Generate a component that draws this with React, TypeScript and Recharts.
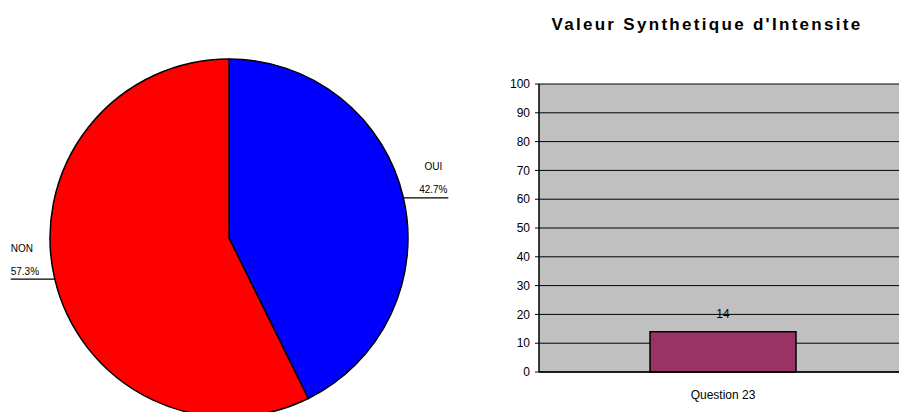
import React from 'react';
import { PieChart, Pie, Cell, BarChart, Bar, XAxis, YAxis, CartesianGrid, LabelList } from 'recharts';

const pieNames = ['OUI', 'NON'];
const pieValues = [42.7, 57.3];
const pieColors = ['#0000ff', '#ff0000'];

const barCategories = ['Question 23'];
const barValues = [14];
const yTicks = [0, 10, 20, 30, 40, 50, 60, 70, 80, 90, 100];

const chartTitle = "Valeur Synthetique d'Intensite";

const pieData = pieNames.map((name, i) => ({ name, value: pieValues[i] }));
const barData = barCategories.map((name, i) => ({ name, value: barValues[i] }));

const FONT = '"Liberation Sans", Arial, sans-serif';
const RAD = Math.PI / 180;

const renderPieLabel = (props: any) => {
  const { cx, cy, midAngle, outerRadius, name, value } = props;
  const ex = cx + outerRadius * Math.cos(-midAngle * RAD);
  const ey = cy + outerRadius * Math.sin(-midAngle * RAD);
  const right = ex > cx;
  const lineEnd = right ? ex + 45 : ex - 44;
  const tx = right ? ex + 30 : lineEnd;
  const anchor = right ? 'middle' : 'start';
  return (
    <g>
      <line x1={ex} y1={ey + 0.5} x2={lineEnd} y2={ey + 0.5} stroke="#000" strokeWidth={1.2} />
      <text x={tx} y={ey - 27} textAnchor={anchor} fontSize={10} fontFamily={FONT} fill="#000">
        {name}
      </text>
      <text x={tx} y={ey - 4} textAnchor={anchor} fontSize={10} fontFamily={FONT} fill="#000">
        {Number(value).toFixed(1)}%
      </text>
    </g>
  );
};

export default function App() {
  return (
    <div style={{ position: 'absolute', left: 0, top: 0, width: 899, height: 412, overflow: 'hidden', background: '#fff' }}>
      <div style={{ position: 'absolute', left: 0, top: 0 }}>
        <PieChart width={470} height={412} margin={{ top: 0, right: 0, bottom: 0, left: 0 }}>
          <Pie
            data={pieData}
            dataKey="value"
            nameKey="name"
            cx={229}
            cy={238}
            outerRadius={179}
            startAngle={90}
            endAngle={-270}
            stroke="#000"
            strokeWidth={1.5}
            label={renderPieLabel}
            labelLine={false}
            isAnimationActive={false}
          >
            {pieData.map((d, i) => (
              <Cell key={d.name} fill={pieColors[i]} />
            ))}
          </Pie>
        </PieChart>
      </div>
      <div
        style={{
          position: 'absolute',
          left: 490,
          top: 15,
          width: 434,
          textAlign: 'center',
          fontFamily: FONT,
          fontWeight: 'bold',
          fontSize: 17,
          letterSpacing: 2.3,
          lineHeight: '20px',
          color: '#000',
        }}
      >
        {chartTitle}
      </div>
      <div style={{ position: 'absolute', left: 490, top: 0 }}>
        <BarChart width={417} height={412} data={barData} margin={{ top: 84, right: 0, bottom: 10, left: 0 }}>
          <CartesianGrid vertical={false} stroke="#000" strokeWidth={1} fill="#c0c0c0" fillOpacity={1} />
          <XAxis
            dataKey="name"
            height={30}
            axisLine={{ stroke: '#000', strokeWidth: 1.5 }}
            tickLine={false}
            tick={{ fontSize: 12, fontFamily: FONT, fill: '#000' }}
            tickMargin={12}
          />
          <YAxis
            domain={[0, 100]}
            ticks={yTicks}
            width={49}
            interval={0}
            axisLine={{ stroke: '#000', strokeWidth: 1.5 }}
            tickLine={{ stroke: '#000' }}
            tickSize={4}
            tickMargin={5}
            tick={{ fontSize: 12, fontFamily: FONT, fill: '#000' }}
          />
          <Bar dataKey="value" fill="#993366" stroke="#000" strokeWidth={1.5} barSize={146} isAnimationActive={false}>
            <LabelList dataKey="value" position="top" offset={14} fontSize={12} fontFamily={FONT} fill="#000" />
          </Bar>
        </BarChart>
      </div>
    </div>
  );
}
